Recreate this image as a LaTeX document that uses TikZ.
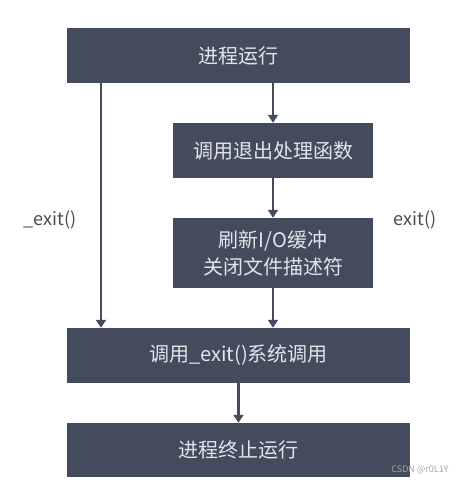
\documentclass[tikz,border=0pt]{standalone}
\usepackage{fontspec}
\setmainfont{Noto Sans CJK SC}
\usepackage{xcolor}
\usepackage{tikz}
\usetikzlibrary{arrows.meta, positioning, calc}
\definecolor{slate}{HTML}{434B5C}
\definecolor{paletext}{HTML}{E2E5EA}
\tikzset{
    box/.style={fill=slate, text=paletext, inner sep=0pt, align=center, font=\fontsize{20}{27}\selectfont},
    flow/.style={-{Triangle[length=8pt, width=10pt]}, line width=2.6pt, slate},
    tag/.style={text=black!70, font=\fontsize{18}{20}\selectfont}
}

\begin{document}
\begin{tikzpicture}[x=1pt, y=-1pt]
    \useasboundingbox (0,0) rectangle (474,488);
    % Boxes
    \node[box, minimum width=343pt, minimum height=55pt] (run) at (238.5,55.5) {进程运行};
    \node[box, minimum width=200pt, minimum height=55pt] (handler) at (273,150.5) {调用退出处理函数};
    \node[box, minimum width=200pt, minimum height=70pt] (flush) at (273,253) {刷新I/O缓冲\\关闭文件描述符};
    \node[box, minimum width=343pt, minimum height=55pt] (sysexit) at (238.5,355.5) {调用\_exit()系统调用};
    \node[box, minimum width=343pt, minimum height=54pt] (term) at (238.5,450) {进程终止运行};
    % Direct path
    \coordinate (direct) at (101,0);
    \draw[flow] (run.south -| direct) -- (sysexit.north -| direct);
    \node[tag] (fastexit) at (50,220) {\_exit()};
    % Normal path
    \draw[flow] (run.south -| handler) -- (handler.north);
    \draw[flow] (handler) -- (flush);
    \draw[flow] (flush) -- (sysexit.north -| flush);
    \node[tag] (normalexit) at (415,220) {exit()};
    % End
    \draw[flow] (sysexit) -- (term);
    \node[text=black!35, font=\fontsize{9}{10}\selectfont] (mark) at (420,470) {CSDN @r0L1Y};
\end{tikzpicture}
\end{document}
